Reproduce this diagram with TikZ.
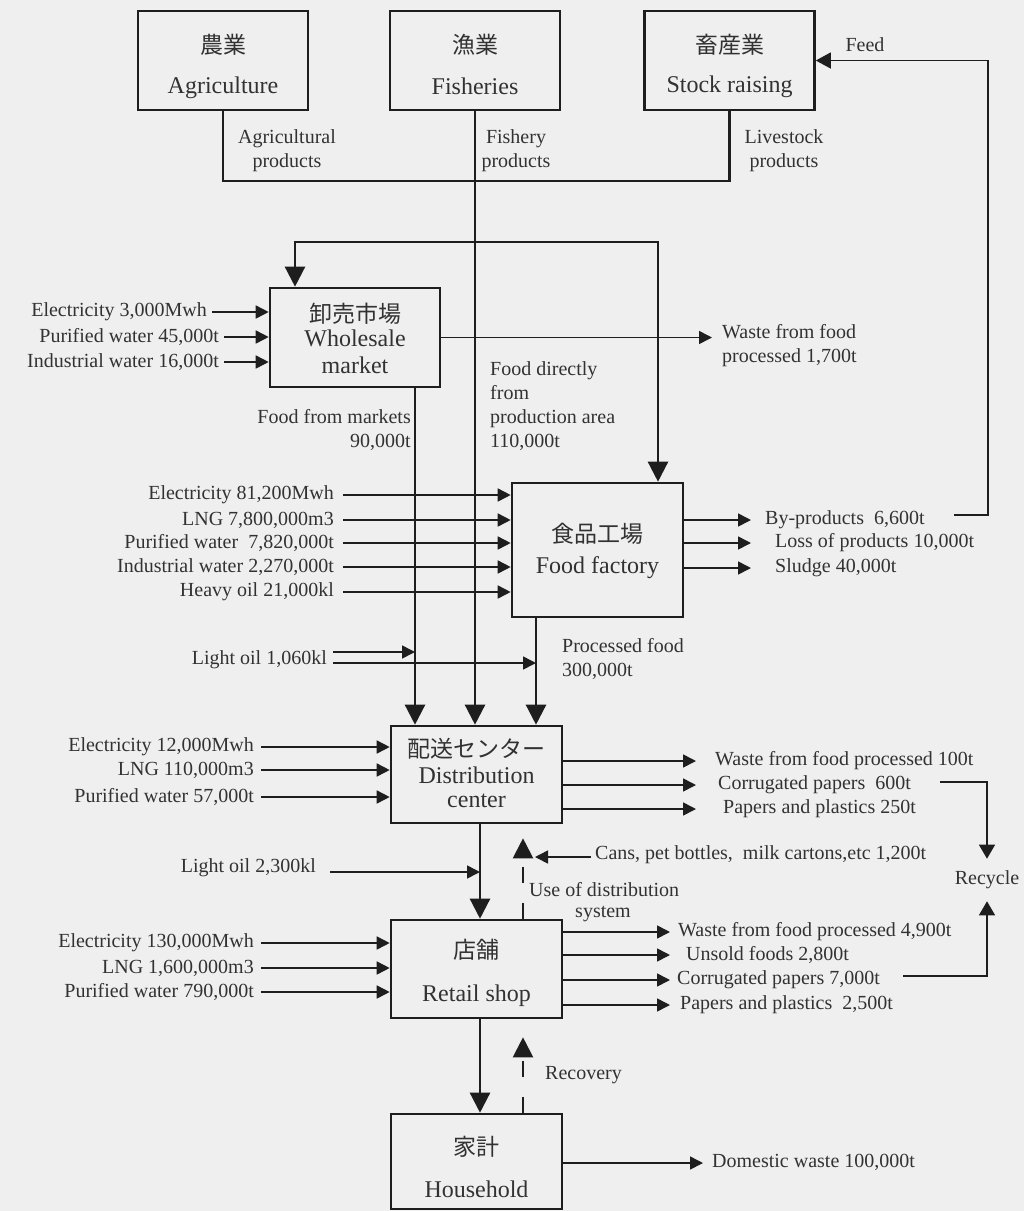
\documentclass[tikz,border=0pt]{standalone}
\usepackage{fontspec}
\setmainfont{Liberation Serif}
\newfontfamily\jpfont{Noto Sans CJK JP}
\usetikzlibrary{arrows.meta,positioning,calc}

\definecolor{ink}{RGB}{30,30,30}
\definecolor{txt}{RGB}{50,50,50}
\definecolor{paper}{RGB}{239,239,239}

\tikzset{
  sector/.style={draw=ink, line width=2.6pt, minimum width=170pt, minimum height=99pt, inner sep=0pt},
  jp/.style={font=\jpfont\fontsize{23}{26}\selectfont, text=txt, inner sep=0pt},
  en/.style={font=\fontsize{24}{28}\selectfont, text=txt, inner sep=0pt},
  lab/.style={font=\fontsize{20}{24}\selectfont, text=txt, inner sep=0pt, align=left},
  flow/.style={draw=ink, line width=2.4pt, -{Triangle[length=20pt,width=20pt]}},
  bus/.style={draw=ink, line width=2.4pt},
  inarrow/.style={draw=ink, line width=1.6pt, -{Triangle[length=13pt,width=13pt]}},
  thinline/.style={draw=ink, line width=1.3pt},
  back/.style={draw=ink, line width=2.2pt, dash pattern=on 16pt off 20pt, -{Triangle[length=20pt,width=20pt]}}
}

\begin{document}
\begin{tikzpicture}[x=1pt,y=-1pt]
\fill[paper] (0,0) rectangle (1024,1211);
\useasboundingbox (0,0) rectangle (1024,1211);

% producers
\node[sector] (agri) at (223,60.5) {};
\node[jp] (agri-jp) at (223,45) {農業};
\node[en] (agri-en) at (223,88) {Agriculture};
\node[sector] (fish) at (475,60.5) {};
\node[jp] (fish-jp) at (475,45) {漁業};
\node[en] (fish-en) at (475,86) {Fisheries};
\node[sector] (stock) at (729.5,60.5) {};
\node[jp] (stock-jp) at (729.5,45) {畜産業};
\node[en] (stock-en) at (729.5,87) {Stock raising};

% chain
\node[sector] (whole) at (355,337.5) {};
\node[jp] (whole-jp) at (355,314) {卸売市場};
\node[en] (whole-en) at (355,338) {Wholesale};
\node[en] (whole-en2) at (355,365) {market};
\node[sector, minimum width=171pt, minimum height=134pt] (fact) at (597.5,550) {};
\node[jp] (fact-jp) at (597.5,534) {食品工場};
\node[en] (fact-en) at (597.5,568) {Food factory};
\node[sector, minimum width=171pt, minimum height=97pt] (dist) at (476.5,774.5) {};
\node[jp] (dist-jp) at (476.5,749) {配送センター};
\node[en] (dist-en) at (476.5,775) {Distribution};
\node[en] (dist-en2) at (476.5,801) {center};
\node[sector, minimum width=171pt, minimum height=98pt] (shop) at (476.5,969) {};
\node[jp] (shop-jp) at (476.5,950) {店舗};
\node[en] (shop-en) at (476.5,996) {Retail shop};
\node[sector, minimum width=171pt, minimum height=95pt] (home) at (476.5,1161.5) {};
\node[jp] (home-jp) at (476.5,1147) {家計};
\node[en] (home-en) at (476.5,1189) {Household};

% products from primary sectors
\coordinate (bus) at (475,181);
\draw[bus] (agri.south) |- (bus) -| (stock.south);
\draw[flow] (fish.south) -- (fish.south |- dist.north);
\node[lab, align=center] (agri-out) at (287,151) {Agricultural\\products};
\node[lab, align=center] (fish-out) at (516,151) {Fishery\\products};
\node[lab, align=center] (stock-out) at (784,151) {Livestock\\products};

\coordinate (split) at (475,242);
\draw[flow] (split) -| ([xshift=-60pt]whole.north);
\draw[flow] (split) -| ([xshift=60.5pt]fact.north);

\coordinate (d1) at ([xshift=-61.5pt]dist.north);
\coordinate (d3) at ([xshift=59.5pt]dist.north);
\draw[flow] (d1 |- whole.south) -- (d1);
\draw[flow] (d3 |- fact.south) -- (d3);
\node[lab, align=right, anchor=east] (mkt-lab) at (411,430) {Food from markets\\90,000t};
\node[lab, anchor=west] (direct-lab) at (490,406) {Food directly\\from\\production area\\110,000t};
\node[lab, anchor=west] (proc-lab) at (562,659) {Processed food\\300,000t};

% wholesale market
\foreach \y/\x/\t [count=\i] in {312/212/{Electricity 3,000Mwh},337/224/{Purified water 45,000t},362/224/{Industrial water 16,000t}}{
  \coordinate (wi\i) at (\x,\y);
  \draw[inarrow] (wi\i) -- (wi\i -| whole.west);
  \node[lab, anchor=east] (wl\i) at ([xshift=-5pt]wi\i) {\t};
}
\coordinate (wo) at (712,337.5);
\draw[inarrow] (whole.east) -- (wo);
\node[lab, anchor=west] (wol) at (722,346) {Waste from food\\processed 1,700t};

% food factory
\foreach \y/\t [count=\i] in {495/{Electricity 81,200Mwh},520/{LNG 7,800,000m3},543/{Purified water\ \ 7,820,000t},567/{Industrial water 2,270,000t},592/{Heavy oil 21,000kl}}{
  \coordinate (fi\i) at (343,\y);
  \draw[inarrow] (fi\i) -- (fi\i -| fact.west);
  \node[lab, anchor=east] (fil\i) at ([xshift=-9pt]fi\i) {\t};
}
\foreach \y/\x/\t [count=\i] in {520/765/{By-products\ \ 6,600t},543/775/{Loss of products 10,000t},568/775/{Sludge 40,000t}}{
  \coordinate (fo\i) at (751,\y);
  \draw[inarrow] (fo\i -| fact.east) -- (fo\i);
  \node[lab, anchor=west] (fol\i) at (\x,\y) {\t};
}
\node[lab] (feed) at (865,45) {Feed};
\coordinate (fd) at (954,515);
\coordinate (fdturn) at (988,515);
\draw[thinline, -{Triangle[length=15pt,width=16pt]}] (fd) -- (fdturn) |- (stock.east);

% light oil to distribution
\coordinate (lo1) at (333,652);
\coordinate (lo2) at (333,663);
\draw[inarrow] (lo1) -- (lo1 -| d1);
\draw[inarrow] (lo2) -- (lo2 -| d3);
\node[lab, anchor=east] (lo-lab) at (327,660) {Light oil 1,060kl};

% distribution center
\foreach \y/\t [count=\i] in {747/{Electricity 12,000Mwh},770/{LNG 110,000m3},797/{Purified water 57,000t}}{
  \coordinate (di\i) at (261,\y);
  \draw[inarrow] (di\i) -- (di\i -| dist.west);
  \node[lab, anchor=east] (dil\i) at ([xshift=-7pt]di\i) {\t};
}
\foreach \y/\x/\t [count=\i] in {761/715/{Waste from food processed 100t},785/718/{Corrugated papers\ \ 600t},809/723/{Papers and plastics 250t}}{
  \coordinate (do\i) at (696,\y);
  \draw[inarrow] (do\i -| dist.east) -- (do\i);
  \node[lab, anchor=west] (dol\i) at (\x,\y) {\t};
}

\coordinate (dn) at ([xshift=3.5pt]dist.south);
\draw[flow] (dn) -- ([xshift=3.5pt]shop.north);
\draw[back, shorten >=14pt] ([xshift=46.5pt]shop.north) -- ([xshift=46.5pt]dist.south);
\coordinate (lo3) at (330,872);
\draw[inarrow] (lo3) -- (lo3 -| dn);
\node[lab, anchor=east] (lo3-lab) at (316,868) {Light oil 2,300kl};
\coordinate (cans) at (591,857);
\coordinate (canstip) at (535,857);
\draw[inarrow] (cans) -- (canstip);
\node[lab, anchor=west] (cans-lab) at (595,855) {Cans, pet bottles,\ \ milk cartons,etc 1,200t};
\node[lab, anchor=west] (use-lab) at (529,890) {Use of distribution};
\node[lab] (use-lab2) at (603,914) {system};

% retail shop
\foreach \y/\t [count=\i] in {943/{Electricity 130,000Mwh},968/{LNG 1,600,000m3},992/{Purified water 790,000t}}{
  \coordinate (si\i) at (261,\y);
  \draw[inarrow] (si\i) -- (si\i -| shop.west);
  \node[lab, anchor=east] (sil\i) at ([xshift=-7pt]si\i) {\t};
}
\foreach \y/\x/\t [count=\i] in {932/678/{Waste from food processed 4,900t},955/686/{Unsold foods 2,800t},980/677/{Corrugated papers 7,000t},1005/680/{Papers and plastics\ \ 2,500t}}{
  \coordinate (so\i) at (670,\y);
  \draw[inarrow] (so\i -| shop.east) -- (so\i);
  \node[lab, anchor=west] (sol\i) at (\x,\y) {\t};
}

% recycle
\node[lab, inner ysep=12pt] (rcy) at (987,880) {Recycle};
\coordinate (rc1) at (940,782);
\coordinate (rc2) at (903,976);
\draw[thinline, -{Triangle[length=14pt,width=16pt]}] (rc1) -| (rcy.north);
\draw[thinline, -{Triangle[length=14pt,width=16pt]}] (rc2) -| (rcy.south);

% household
\draw[flow] ([xshift=3.5pt]shop.south) -- ([xshift=3.5pt]home.north);
\draw[back, shorten >=18pt] ([xshift=46.5pt]home.north) -- ([xshift=46.5pt]shop.south);
\node[lab, anchor=west] (rec-lab) at (545,1075) {Recovery};
\coordinate (ho) at (703,1163);
\draw[inarrow] (ho -| home.east) -- (ho);
\node[lab, anchor=west] (hol) at (712,1162) {Domestic waste 100,000t};
\end{tikzpicture}
\end{document}
